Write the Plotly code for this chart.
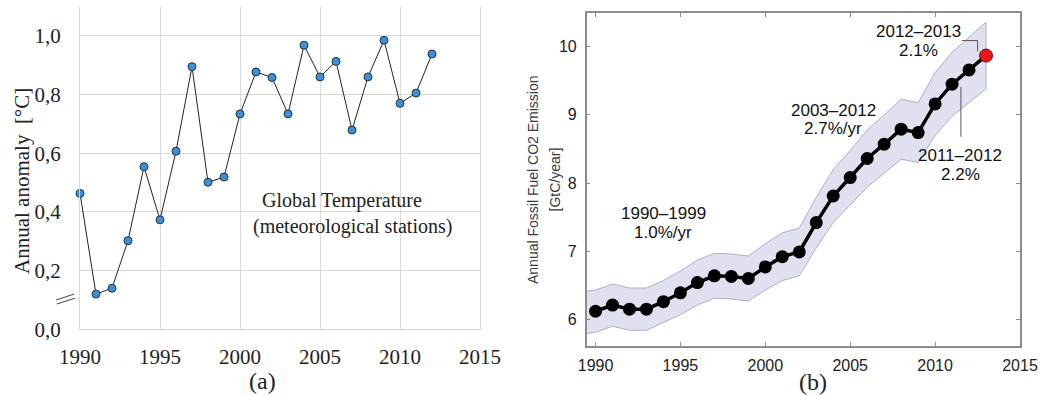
import plotly.graph_objects as go

# ---------- data: panel (a) ----------
temp_years = list(range(1990, 2013))
temp_anomaly = [0.463, 0.120, 0.140, 0.302, 0.554, 0.373, 0.607, 0.895, 0.501, 0.519,
                0.734, 0.877, 0.858, 0.734, 0.968, 0.860, 0.913, 0.679, 0.860, 0.985,
                0.770, 0.805, 0.938]
temp_ytick_vals = [0.0, 0.2, 0.4, 0.6, 0.8, 1.0]
temp_ytick_text = ["0,0", "0,2", "0,4", "0,6", "0,8", "1,0"]
year_ticks = [1990, 1995, 2000, 2005, 2010, 2015]

# ---------- data: panel (b) ----------
co2_years = list(range(1990, 2014))
co2_emission = [6.12, 6.21, 6.15, 6.15, 6.26, 6.39, 6.54, 6.64, 6.63, 6.60,
                6.77, 6.92, 6.99, 7.42, 7.81, 8.08, 8.36, 8.57, 8.79, 8.74,
                9.16, 9.45, 9.66, 9.87]
band_years = [1989] + list(range(1990, 2014))
band_upper = [6.40, 6.43, 6.52, 6.46, 6.46, 6.57, 6.71, 6.87, 6.97, 6.96, 6.93,
              7.11, 7.27, 7.34, 7.79, 8.20, 8.48, 8.78, 9.00, 9.23, 9.18,
              9.62, 9.92, 10.14, 10.36]
band_lower = [5.78, 5.81, 5.90, 5.84, 5.84, 5.95, 6.07, 6.21, 6.31, 6.30, 6.27,
              6.43, 6.57, 6.64, 7.05, 7.42, 7.68, 7.94, 8.14, 8.35, 8.30,
              8.70, 8.98, 9.18, 9.38]
co2_ytick_vals = [6, 7, 8, 9, 10]

W, H = 1045, 396
def px(x): return x / W
def py(y): return 1 - y / H

SERIF = "Liberation Serif, Times New Roman, serif"
SANS = "Liberation Sans, Arial, sans-serif"
GRID = "#d9d9d9"

fig = go.Figure()

# panel (a)
fig.add_trace(go.Scatter(
    x=temp_years, y=temp_anomaly, mode="lines+markers", cliponaxis=False,
    line=dict(color="#222222", width=1),
    marker=dict(size=8, color="#3f8fd8", line=dict(color="#1b3550", width=1)),
    xaxis="x", yaxis="y", showlegend=False, hoverinfo="skip"))

# panel (b) band
fig.add_trace(go.Scatter(
    x=band_years + band_years[::-1], y=band_upper + band_lower[::-1],
    mode="lines", fill="toself", fillcolor="#dfe0f0",
    line=dict(color="#aeb0c4", width=1),
    xaxis="x2", yaxis="y2", showlegend=False, hoverinfo="skip"))
# panel (b) series
fig.add_trace(go.Scatter(
    x=co2_years[:-1], y=co2_emission[:-1], mode="lines+markers",
    line=dict(color="#000000", width=3.5),
    marker=dict(size=13, color="#000000"),
    xaxis="x2", yaxis="y2", showlegend=False, hoverinfo="skip"))
fig.add_trace(go.Scatter(
    x=co2_years[-2:], y=co2_emission[-2:], mode="lines",
    line=dict(color="#000000", width=3.5),
    xaxis="x2", yaxis="y2", showlegend=False, hoverinfo="skip"))
fig.add_trace(go.Scatter(
    x=co2_years[-1:], y=co2_emission[-1:], mode="markers",
    marker=dict(size=13, color="#e8151b", line=dict(color="#7a0b0b", width=1)),
    xaxis="x2", yaxis="y2", showlegend=False, hoverinfo="skip"))

annotations = [
    dict(text="Annual anomaly\u00a0 [°C]", x=px(22), y=py(181), textangle=-90,
         font=dict(family=SERIF, size=21, color="#222")),
    dict(text="Global Temperature", x=px(342), y=py(200),
         font=dict(family=SERIF, size=20, color="#222")),
    dict(text="(meteorological stations)", x=px(352), y=py(226),
         font=dict(family=SERIF, size=20, color="#222")),
    dict(text="(a)", x=px(262), y=py(381), font=dict(family=SERIF, size=24, color="#222")),
    dict(text="(b)", x=px(813), y=py(382), font=dict(family=SERIF, size=24, color="#222")),
    dict(text="Annual Fossil Fuel CO2 Emission", x=px(533), y=py(180), textangle=-90,
         font=dict(family=SANS, size=14, color="#3a3a3a")),
    dict(text="[GtC/year]", x=px(554.5), y=py(180), textangle=-90,
         font=dict(family=SANS, size=14, color="#3a3a3a")),
    dict(text="1990–1999", x=px(663), y=py(213), font=dict(family=SANS, size=17, color="#111")),
    dict(text="1.0%/yr", x=px(663), y=py(232), font=dict(family=SANS, size=17, color="#111")),
    dict(text="2003–2012", x=px(833), y=py(110), font=dict(family=SANS, size=17, color="#111")),
    dict(text="2.7%/yr", x=px(833), y=py(128), font=dict(family=SANS, size=17, color="#111")),
    dict(text="2012–2013", x=px(918), y=py(32), font=dict(family=SANS, size=17, color="#111")),
    dict(text="2.1%", x=px(918), y=py(50), font=dict(family=SANS, size=17, color="#111")),
    dict(text="2011–2012", x=px(960), y=py(155), font=dict(family=SANS, size=17, color="#111")),
    dict(text="2.2%", x=px(960), y=py(174), font=dict(family=SANS, size=17, color="#111")),
]
for a in annotations:
    a.update(xref="paper", yref="paper", showarrow=False, xanchor="center", yanchor="middle")

shapes = [
    dict(type="line", xref="paper", yref="paper", x0=px(56), y0=py(300), x1=px(74.3), y1=py(294),
         line=dict(color="#555", width=1.2)),
    dict(type="line", xref="paper", yref="paper", x0=px(56.7), y0=py(304), x1=px(75), y1=py(298.3),
         line=dict(color="#555", width=1.2)),
    dict(type="path", xref="x2", yref="y2", path="M 2011.58,10.09 L 2012.5,10.09 L 2012.5,9.93",
         line=dict(color="#555", width=1)),
    dict(type="line", xref="x2", yref="y2", x0=2011.52, y0=9.41, x1=2011.52, y1=8.68,
         line=dict(color="#555", width=1)),
]

fig.update_layout(
    width=W, height=H, margin=dict(l=0, r=0, t=0, b=0, pad=0, autoexpand=False),
    paper_bgcolor="white", plot_bgcolor="white",
    annotations=annotations, shapes=shapes,
    xaxis=dict(domain=[px(80), px(480)], range=[1990, 2015], tickvals=year_ticks,
               automargin=False,
               showgrid=True, gridcolor=GRID, gridwidth=1, zeroline=False,
               showline=True, linecolor=GRID, linewidth=1, ticks="",
               ticklabelstandoff=8,
               tickfont=dict(family=SERIF, size=21, color="#222")),
    yaxis=dict(domain=[py(329.3), py(6.5)], range=[0, 1.1],
               tickvals=temp_ytick_vals, ticktext=temp_ytick_text, automargin=False,
               showgrid=True, gridcolor=GRID, gridwidth=1, zeroline=False,
               showline=True, linecolor=GRID, linewidth=1, mirror=True, ticks="",
               ticklabelstandoff=14,
               tickfont=dict(family=SERIF, size=21, color="#222")),
    xaxis2=dict(domain=[px(586.7), px(1020)], range=[1989.48, 2015], tickvals=year_ticks,
                anchor="y2", showgrid=False, zeroline=False, automargin=False,
                showline=True, linecolor="#8c8c8c", linewidth=1.5, mirror="ticks",
                ticks="inside", ticklen=4, tickcolor="#8c8c8c", tickwidth=1,
                ticklabelstandoff=4,
                tickfont=dict(family=SANS, size=16, color="#222")),
    yaxis2=dict(domain=[py(346), py(13.3)], range=[5.61, 10.49], tickvals=co2_ytick_vals,
                anchor="x2", showgrid=False, zeroline=False, automargin=False,
                showline=True, linecolor="#8c8c8c", linewidth=1.5, mirror="ticks",
                ticks="inside", ticklen=4, tickcolor="#8c8c8c", tickwidth=1,
                ticklabelstandoff=5,
                tickfont=dict(family=SANS, size=16, color="#222")),
)

fig.write_html("out.html")
